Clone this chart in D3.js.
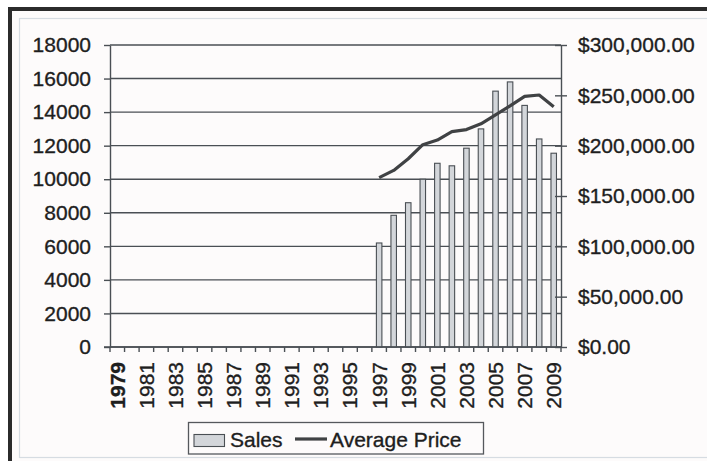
<!DOCTYPE html>
<html>
<head>
<meta charset="utf-8">
<script src="https://cdn.jsdelivr.net/npm/d3@7"></script>
<style>
  body { margin: 0; background: #ffffff; }
  svg { display: block; }
  text { stroke: #1e1e1e; stroke-width: 0.35px; }
</style>
</head>
<body>
<div class="graph"></div>
<script>
// years on the x axis
const years = d3.range(1979, 2010).map(String)
const labelYears = years.filter((d, i) => i % 2 === 0)

// sales (left axis) and average price (right axis), only 1997-2009 have data
const dataYears = ["1997", "1998", "1999", "2000", "2001", "2002", "2003", "2004", "2005", "2006", "2007", "2008", "2009"]
const sales = [6200, 7850, 8600, 10000, 10950, 10800, 11850, 13000, 15250, 15800, 14400, 12400, 11550]
const avgPrice = [168200, 175400, 187000, 201000, 205600, 214000, 216000, 221700, 230500, 239500, 249000, 250300, 238700]

const leftTicks = d3.range(0, 18001, 2000)
const rightTicks = d3.range(0, 300001, 50000)

const width = 707, height = 461
const margin = {top: 45, right: 146, bottom: 114, left: 110}
const font = "Liberation Sans, Arial, sans-serif"
const gridColor = "#4a4f54"

const svg = d3.select(".graph").append("svg")
    .attr("width", width)
    .attr("height", height)
    .style("font-family", font)

svg.append("rect")
    .attr("width", "100%")
    .attr("height", "100%")
    .style("fill", "#ffffff")

// frame: thick dark outer border + thin light inner border
svg.append("rect")
    .attr("x", 10).attr("y", 9)
    .attr("width", 720).attr("height", 470)
    .attr("fill", "#fdfbfb")
    .attr("stroke", "#2b2b2b")
    .attr("stroke-width", 4)
svg.append("rect")
    .attr("x", 19.5).attr("y", 18.5)
    .attr("width", 720).attr("height", 439)
    .attr("fill", "none")
    .attr("stroke", "#d6dce2")
    .attr("stroke-width", 1.2)

const x = d3.scaleBand()
    .domain(years)
    .range([margin.left, width - margin.right])
    .padding(0)

const y = d3.scaleLinear()
    .domain([0, 18000])
    .range([height - margin.bottom, margin.top])

const y2 = d3.scaleLinear()
    .domain([0, 300000])
    .range([height - margin.bottom, margin.top])

// horizontal gridlines
svg.append("g")
    .selectAll("line")
    .data(leftTicks)
    .join("line")
    .attr("x1", margin.left)
    .attr("x2", width - margin.right)
    .attr("y1", d => y(d))
    .attr("y2", d => y(d))
    .attr("stroke", gridColor)
    .attr("stroke-width", 1.4)

// bars
const bw = 5.5
svg.append("g")
    .selectAll("rect")
    .data(dataYears.map((d, i) => ({year: d, value: sales[i]})))
    .join("rect")
    .attr("x", d => x(d.year) + x.bandwidth() / 2 - bw / 2)
    .attr("y", d => y(d.value))
    .attr("width", bw)
    .attr("height", d => y(0) - y(d.value))
    .attr("fill", "#d3d6da")
    .attr("stroke", "#4a4f54")
    .attr("stroke-width", 1.1)

// average price line
const line = d3.line()
    .x(d => x(d.year) + x.bandwidth() / 2)
    .y(d => y2(d.value))

svg.append("path")
    .datum(dataYears.map((d, i) => ({year: d, value: avgPrice[i]})))
    .attr("d", line)
    .attr("fill", "none")
    .attr("stroke", "#404244")
    .attr("stroke-width", 3.2)
    .attr("stroke-linejoin", "round")

// left axis
svg.append("g")
    .attr("transform", `translate(${margin.left},0)`)
    .call(d3.axisLeft(y).tickValues(leftTicks).tickFormat(d3.format("d")).tickSize(6).tickPadding(13).tickSizeOuter(0))
    .call(g => g.selectAll("line, path").attr("stroke", gridColor).attr("stroke-width", 1.4))
    .call(g => g.selectAll("text").style("font-size", "21px").attr("fill", "#1e1e1e").style("font-family", font))

// right axis, ticks cross the axis line
svg.append("g")
    .attr("transform", `translate(${width - margin.right},0)`)
    .call(d3.axisRight(y2).tickValues(rightTicks).tickFormat(d => "$" + d3.format(",.2f")(d)).tickSize(6).tickPadding(11).tickSizeOuter(0))
    .call(g => g.selectAll(".tick line").attr("x1", -6))
    .call(g => g.selectAll("line, path").attr("stroke", gridColor).attr("stroke-width", 1.4))
    .call(g => g.selectAll("text").style("font-size", "21px").attr("fill", "#1e1e1e").style("font-family", font))

// bottom axis: ticks at category boundaries
const bounds = years.map(d => x(d)).concat([width - margin.right])
svg.append("g")
    .selectAll("line")
    .data(bounds)
    .join("line")
    .attr("x1", d => d).attr("x2", d => d)
    .attr("y1", y(0)).attr("y2", y(0) + 5)
    .attr("stroke", gridColor)
    .attr("stroke-width", 1.4)

svg.append("line")
    .attr("x1", margin.left - 6)
    .attr("x2", width - margin.right)
    .attr("y1", y(0)).attr("y2", y(0))
    .attr("stroke", gridColor)
    .attr("stroke-width", 1.4)

svg.append("g")
    .selectAll("text")
    .data(labelYears)
    .join("text")
    .attr("transform", d => `translate(${x(d) + x.bandwidth() / 2}, ${y(0) + 15}) rotate(-90)`)
    .attr("text-anchor", "end")
    .attr("dy", "0.35em")
    .style("font-size", "21px")
    .style("font-weight", d => d === "1979" ? "bold" : "normal")
    .attr("fill", "#1e1e1e")
    .text(d => d)

// legend
const legend = svg.append("g")
legend.append("rect")
    .attr("x", 188.5).attr("y", 422.5)
    .attr("width", 295).attr("height", 31.5)
    .attr("fill", "#fdfbfb")
    .attr("stroke", "#55585c")
    .attr("stroke-width", 1.3)
legend.append("rect")
    .attr("x", 194).attr("y", 434.5)
    .attr("width", 30.5).attr("height", 12)
    .attr("fill", "#d3d6da")
    .attr("stroke", "#4a4f54")
    .attr("stroke-width", 1.1)
legend.append("text")
    .attr("x", 230).attr("y", 446.5)
    .style("font-size", "21px")
    .attr("fill", "#1e1e1e")
    .text("Sales")
legend.append("line")
    .attr("x1", 295).attr("x2", 327)
    .attr("y1", 439).attr("y2", 439)
    .attr("stroke", "#404244")
    .attr("stroke-width", 3.2)
legend.append("text")
    .attr("x", 330).attr("y", 446.5)
    .style("font-size", "21px")
    .attr("fill", "#1e1e1e")
    .text("Average Price")
</script>
</body>
</html>
